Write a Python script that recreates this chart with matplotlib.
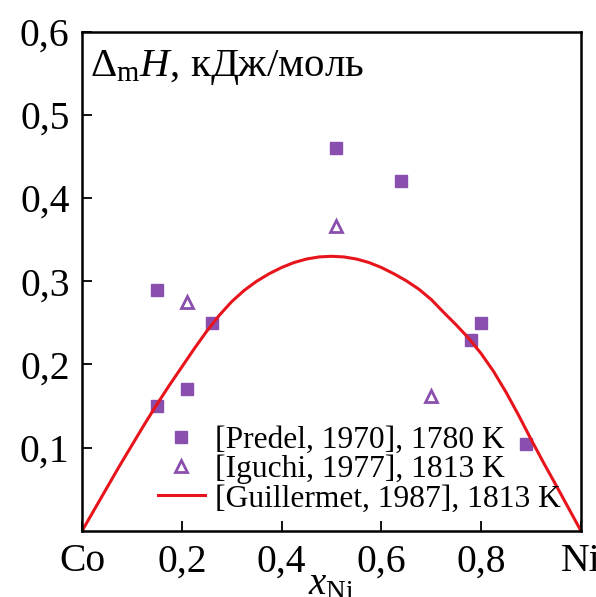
import matplotlib
matplotlib.use("Agg")
import matplotlib.pyplot as plt

plt.rcParams['font.family'] = ['Liberation Serif', 'DejaVu Serif']
plt.rcParams['mathtext.fontset'] = 'custom'
plt.rcParams['mathtext.rm'] = 'Liberation Serif'
plt.rcParams['mathtext.it'] = 'Liberation Serif:italic'

# [Predel, 1970], 1780 K
predel_x = [0.15, 0.15, 0.21, 0.26, 0.51, 0.64, 0.78, 0.80, 0.89]
predel_y = [0.29, 0.15, 0.17, 0.25, 0.46, 0.42, 0.23, 0.25, 0.105]

# [Iguchi, 1977], 1813 K
iguchi_x = [0.21, 0.51, 0.70]
iguchi_y = [0.275, 0.366, 0.162]

# [Guillermet, 1987], 1813 K
guil_x = [0.0, 0.025, 0.05, 0.075, 0.10, 0.125, 0.15, 0.175, 0.20, 0.225,
          0.25, 0.275, 0.30, 0.325, 0.35, 0.375, 0.40, 0.425, 0.45, 0.475,
          0.50, 0.525, 0.55, 0.575, 0.60, 0.625, 0.65, 0.675, 0.70, 0.725,
          0.75, 0.775, 0.80, 0.825, 0.85, 0.875, 0.90, 0.925, 0.95, 0.975, 1.0]
guil_y = [0.0, 0.026, 0.052, 0.078, 0.103, 0.128, 0.152, 0.175, 0.197, 0.219,
          0.240, 0.259, 0.2755, 0.289, 0.300, 0.309, 0.3165, 0.3225, 0.3267, 0.3292,
          0.330, 0.3292, 0.3267, 0.3225, 0.3165, 0.309, 0.3005, 0.2905, 0.278, 0.2625,
          0.2475, 0.2315, 0.213, 0.1915, 0.1665, 0.139, 0.110, 0.082, 0.055, 0.0275, 0.0]

xticks = [0.0, 0.2, 0.4, 0.6, 0.8, 1.0]
xtick_labels = ['Co', '0,2', '0,4', '0,6', '0,8', 'Ni']
yticks = [0.1, 0.2, 0.3, 0.4, 0.5, 0.6]
ytick_labels = ['0,1', '0,2', '0,3', '0,4', '0,5', '0,6']

purple = '#8a4fae'
red = '#e8141c'

fig = plt.figure(figsize=(5.96, 5.97), dpi=100)
ax = fig.add_axes([0.1376, 0.1106, 0.8372, 0.8366])

ax.plot(predel_x, predel_y, 's', color=purple, markersize=9, linestyle='none',
        label='[Predel, 1970], 1780 K')
ax.plot(iguchi_x, iguchi_y, '^', markerfacecolor='white', markeredgecolor=purple,
        markersize=8.5, markeredgewidth=2, linestyle='none', label='[Iguchi, 1977], 1813 K')
ax.plot(guil_x, guil_y, '-', color=red, linewidth=2.2, label='[Guillermet, 1987], 1813 K')

ax.set_xlim(0, 1)
ax.set_ylim(0, 0.6)
ax.set_xticks(xticks)
ax.set_xticklabels(xtick_labels)
ax.set_yticks(yticks)
ax.set_yticklabels(ytick_labels)
ax.tick_params(direction='in', length=7, width=1.3, labelsize=28.5, pad=9)
for s in ax.spines.values():
    s.set_linewidth(1.8)

ax.text(0.016, 0.968, r'$\Delta_{\mathrm{m}}H$, кДж/моль', transform=ax.transAxes,
        ha='left', va='top', fontsize=29.5)
ax.text(0.5, -0.07, r'$x_{\mathrm{Ni}}$', transform=ax.transAxes,
        ha='center', va='top', fontsize=28)

ax.legend(loc='lower left', bbox_to_anchor=(0.152, 0.035), frameon=False, fontsize=22.7,
          borderpad=0, borderaxespad=0, labelspacing=0.0, handlelength=1.5,
          handletextpad=0.3)

fig.savefig('out.png', dpi=100)
